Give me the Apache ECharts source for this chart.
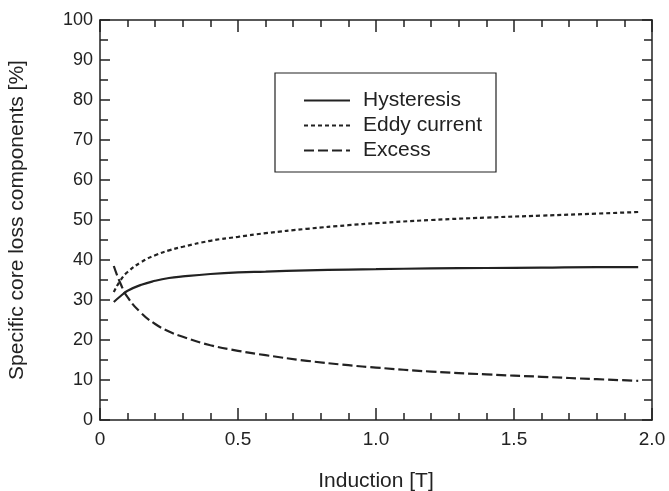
<!DOCTYPE html>
<html>
<head>
<meta charset="utf-8">
<script src="https://cdn.jsdelivr.net/npm/echarts@6/dist/echarts.min.js"></script>
<style>
  html, body { margin: 0; padding: 0; background: #fff; }
  #main { width: 669px; height: 491px; }
</style>
</head>
<body>
<div id="main"></div>
<script type="text/javascript">
// induction [T]
var induction = [0.05, 0.075, 0.1, 0.15, 0.2, 0.25, 0.3, 0.4, 0.5, 0.6, 0.75, 0.9, 1.0, 1.2, 1.4, 1.6, 1.8, 1.95];
// loss components [%]
var hysteresis = [29.5, 31.0, 32.3, 33.8, 34.8, 35.5, 35.9, 36.5, 36.9, 37.1, 37.4, 37.6, 37.7, 37.9, 38.0, 38.1, 38.2, 38.2];
var eddy = [32.0, 35.0, 37.0, 39.5, 41.2, 42.4, 43.3, 44.8, 45.8, 46.7, 47.8, 48.7, 49.2, 50.0, 50.6, 51.1, 51.6, 52.0];
var excess = [38.5, 34.0, 30.7, 26.7, 24.0, 22.1, 20.8, 18.7, 17.3, 16.2, 14.8, 13.7, 13.1, 12.1, 11.4, 10.8, 10.2, 9.8];
var names = ['Hysteresis', 'Eddy current', 'Excess'];

function pairs(ys) {
    var out = [];
    for (var i = 0; i < induction.length; i++) {
        out.push([induction[i], ys[i]]);
    }
    return out;
}

var ink = '#222';
var font = 'Liberation Sans, Arial, sans-serif';

// common frame axis: line + inward ticks, no labels
function axisBase(extra) {
    var a = {
        type: 'value',
        axisLine: { show: true, onZero: false, lineStyle: { color: ink, width: 1.5 } },
        axisTick: { show: true, inside: true, length: 12, lineStyle: { color: ink, width: 1.5 } },
        splitLine: { show: false },
        axisLabel: { show: false }
    };
    for (var k in extra) a[k] = extra[k];
    return a;
}

var xMinor = { show: true, splitNumber: 5, length: 7, lineStyle: { color: ink, width: 1.5 } };
var yMinor = { show: true, splitNumber: 2, length: 8, lineStyle: { color: ink, width: 1.5 } };
var yTick = { show: true, inside: true, length: 10, lineStyle: { color: ink, width: 1.5 } };

var myChart = echarts.init(document.getElementById('main'));
var option = {
    backgroundColor: '#fff',
    animation: false,
    grid: { left: 100, right: 17, top: 20, bottom: 71, containLabel: false, outerBoundsMode: 'none' },
    xAxis: [
        axisBase({
            position: 'bottom', min: 0, max: 2, interval: 0.5, minorTick: xMinor,
            axisLabel: {
                show: true, color: ink, fontSize: 19, fontFamily: font, margin: 10,
                formatter: function (v) { return v === 0 ? '0' : v.toFixed(1); }
            },
            name: 'Induction [T]', nameLocation: 'middle', nameGap: 51,
            nameTextStyle: { color: ink, fontSize: 21, fontFamily: font }
        }),
        axisBase({ position: 'top', min: 0, max: 2, interval: 0.5, minorTick: xMinor })
    ],
    yAxis: [
        axisBase({
            position: 'left', min: 0, max: 100, interval: 10,
            minorTick: yMinor, axisTick: yTick,
            axisLabel: { show: true, color: ink, fontSize: 18, fontFamily: font, margin: 7 },
            name: 'Specific core loss components [%]', nameLocation: 'middle', nameGap: 72,
            nameTextStyle: { color: ink, fontSize: 21, fontFamily: font }
        }),
        axisBase({
            position: 'right', min: 0, max: 100, interval: 10,
            minorTick: yMinor, axisTick: yTick
        })
    ],
    graphic: [{
        type: 'rect',
        shape: { x: 275, y: 73, width: 221, height: 99 },
        style: { fill: '#fff', stroke: ink, lineWidth: 1.2 },
        z: 10
    }],
    legend: {
        orient: 'vertical',
        left: 298, top: 85,
        itemWidth: 46, itemHeight: 14, itemGap: 4,
        z: 20,
        itemStyle: { opacity: 0 },
        textStyle: { color: ink, fontSize: 21, fontFamily: font, padding: [0, 0, 0, 8] },
        data: names
    },
    series: [
        {
            name: names[0], type: 'line', data: pairs(hysteresis), symbol: 'none', smooth: true,
            lineStyle: { color: ink, width: 2.2, type: 'solid' }, itemStyle: { color: ink }
        },
        {
            name: names[1], type: 'line', data: pairs(eddy), symbol: 'none', smooth: true,
            lineStyle: { color: ink, width: 2.2, type: [4, 3] }, itemStyle: { color: ink }
        },
        {
            name: names[2], type: 'line', data: pairs(excess), symbol: 'none', smooth: true,
            lineStyle: { color: ink, width: 2.2, type: [10, 4] }, itemStyle: { color: ink }
        }
    ]
};
myChart.setOption(option);
</script>
</body>
</html>
